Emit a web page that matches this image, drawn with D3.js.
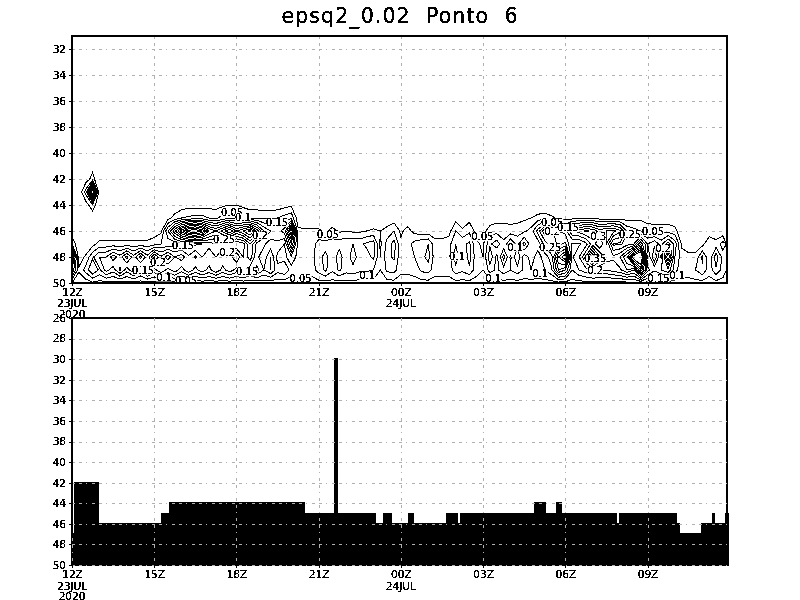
<!DOCTYPE html>
<html><head><meta charset="utf-8">
<script src="https://cdn.jsdelivr.net/npm/d3@7"></script>
<style>
html,body{margin:0;padding:0;background:#fff;}
svg{display:block;}
text{font-family:"DejaVu Sans",sans-serif;fill:#000;}
</style></head><body>
<svg id="c" width="800" height="600">
<defs><filter id="alias" filterUnits="userSpaceOnUse" x="0" y="0" width="800" height="600" color-interpolation-filters="sRGB">
<feComponentTransfer><feFuncA type="discrete" tableValues="0 1 1 1"/></feComponentTransfer>
</filter></defs>
</svg>
<script>
// ---------- data ----------
const chartTitle = "epsq2_0.02  Ponto  6";
const timeTickHours = [0,3,6,9,12,15,18,21];
const timeTickLabels = ["12Z","15Z","18Z","21Z","00Z","03Z","06Z","09Z"];
const dateLabels = [[0,"23JUL"],[0,"2020"],[12,"24JUL"]];
const topLevels = [32,34,36,38,40,42,44,46,48,50];
const bottomLevels = [26,28,30,32,34,36,38,40,42,44,46,48,50];
const stepHours = 0.25;
const gridLevels = [42,43,44,45,46,47,48,49,50];
const contourThresholds = [0.05,0.1,0.15,0.2,0.25,0.3,0.35,0.4,0.45,0.5,0.55];
// epsq2 in hundredths, one row per level, one value per 15 minutes
const row42 = [0,0,2,7,0,0,0,0,0,0,0,0, 0,0,0,0,0,0,0,0,0,0,0,0, 0,0,0,0,0,0,0,0,0,0,0,0, 0,0,0,0,0,0,0,0,0,0,0,0, 0,0,0,0,0,0,0,0,0,0,0,0, 0,0,0,0,0,0,0,0,0,0,0,0, 0,0,0,0,0,0,0,0,0,0,0,0, 0,0,0,0,0,0,0,0,0,0,0,0];
const row43 = [0,0,12,45,0,0,0,0,0,0,0,0, 0,0,0,0,0,0,0,0,0,0,0,0, 0,0,0,0,0,0,0,0,0,0,0,0, 0,0,0,0,0,0,0,0,0,0,0,0, 0,0,0,0,0,0,0,0,0,0,0,0, 0,0,0,0,0,0,0,0,0,0,0,0, 0,0,0,0,0,0,0,0,0,0,0,0, 0,0,0,0,0,0,0,0,0,0,0,0];
const row44 = [0,0,2,9,0,0,0,0,0,0,0,0, 0,0,0,1,2,3,2,2,3,3,4,5, 5,3,2,2,2,2,2,3,4,0,0,0, 0,0,0,0,0,0,0,0,0,0,0,0, 0,0,0,0,0,0,0,0,0,0,0,0, 0,0,0,0,0,0,0,0,0,0,0,0, 0,0,0,0,0,0,0,0,0,0,0,0, 0,0,0,0,0,0,0,0,0,0,0,0];
const row45 = [0,0,0,0,0,0,0,0,0,0,0,0, 0,1,3,7,10,11,12,12,10,9,12,14, 14,13,10,10,9,9,10,12,14,2,1,1, 0,0,0,0,0,0,0,0,0,0,1,2, 0,1,0,0,0,0,0,0,3,1,3,0, 0,1,3,3,3,3,4,5,7,8,6,4, 3,3,4,4,4,3,2,2,3,3,3,4, 2,2,2,2,1,0,0,0,0,0,0,0];
const row46 = [0,0,0,0,0,0,0,0,0,0,0,0, 2,4,20,34,48,58,60,55,40,35,42,50, 40,45,52,38,25,20,18,22,45,6,6,6, 6,4,7,4,5,4,4,5,6,5,7,10, 4,7,3,2,2,2,2,3,10,6,9,3, 3,8,8,8,7,8,9,12,22,34,26,20, 18,30,32,36,34,28,30,32,26,14,12,10, 9,8,8,8,7,0,0,0,0,1,1,1];
const row47 = [10,0,0,3,7,7,7,7,7,7,7,7, 8,10,11,12,13,13,14,15,18,19,17,16, 15,18,30,18,16,12,14,10,30,8,8,8, 12,12,12,13,14,15,14,16,18,4,12,17, 6,8,12,14,15,7,7,8,15,14,16,6, 4,14,18,11,20,13,22,12,12,22,28,24, 26,14,14,18,28,20,30,14,14,18,20,34, 20,24,18,28,18,4,3,3,3,10,7,12];
const row48 = [35,2,6,14,20,20,28,22,32,22,32,22, 36,26,33,25,28,21,26,20,24,20,24,22, 30,20,28,16,12,20,8,8,14,8,8,8, 13,17,11,18,11,18,12,13,16,5,13,16, 6,6,10,13,17,7,7,7,18,10,17,7, 5,19,8,22,9,20,7,12,8,12,18,40, 50,14,20,30,50,36,28,26,30,40,60,70, 14,30,14,40,15,7,6,6,16,6,18,8];
const row49 = [25,6,12,20,14,22,17,26,17,25,16,26, 18,24,18,23,17,24,18,23,18,24,18,23, 18,22,16,22,15,20,12,14,8,8,8,8, 12,16,11,16,12,13,11,11,10,5,11,12, 6,6,7,11,12,7,7,7,13,11,14,7, 5,12,9,13,10,13,9,10,9,10,14,30, 25,10,15,18,22,20,20,22,24,30,25,45, 22,16,20,24,12,7,8,10,14,7,14,8];
const row50 = [5,0,2,4,3,3,3,3,3,3,3,3, 3,3,3,3,2,2,2,2,2,2,2,2, 2,2,2,2,2,2,2,2,2,2,2,2, 3,3,3,3,3,3,3,3,3,3,3,3, 3,3,3,3,3,3,3,3,3,3,3,3, 3,3,3,3,3,3,3,3,3,3,3,3, 3,3,3,3,3,3,3,3,3,3,4,5, 3,3,3,3,3,3,3,3,3,3,3,3];
const contourLabelText = ["0.05","0.1","0.15","0.25","0.2","0.15","0.2","0.2","0.15","0.15","0.1","0.05","0.05","0.1","0.05","0.1","0.05","0.1","0.1","0.1","0.05","0.2","0.15","0.25","0.3","0.25","0.35","0.2","0.15","0.1","0.05","0.2"];
const contourLabelHour = [5.84,6.24,7.48,5.55,6.86,4.05,3.14,5.66,2.59,6.39,3.36,4.16,9.34,10.77,8.34,14.05,14.97,15.37,16.17,17.08,17.52,17.52,18.1,17.45,19.2,20.36,19.09,19.09,21.4,22.08,21.2,21.57];
const contourLabelLevel = [44.5,44.9,45.3,46.6,46.3,47.1,48.4,47.6,49,49.1,49.5,49.8,46.2,49.4,49.6,47.9,46.4,49.6,47.2,49.2,45.3,46,45.7,47.2,46.4,46.2,48.1,49,49.6,49.4,46,47.3];
// bottom panel: lowest level reached from each start hour on
const barStartHours = [0,0.07,0.99,3.25,3.54,8.5,9.56,9.71,11.09,11.35,11.68,12.26,12.48,13.65,14.09,14.16,16.86,17.3,17.66,17.88,19.89,19.96,22.08,22.19,22.96,23.36,23.47,23.83,23.98];
const barTopLevels = [47,42,46,45,44,45,30,45,46,45,46,45,46,45,46,45,44,45,44,45,46,45,46,47,46,45,46,45,45];

// ---------- scales ----------
const svg = d3.select("#c");
const x = d3.scaleLinear().domain([0,23.9]).range([72,727]);
const yTop = d3.scaleLinear().domain([31,50]).range([36,283]);
const yBot = d3.scaleLinear().domain([26,50]).range([318,565]);
const GRID = "#b0b0b0", DASH = "3,4,3,4,1,5";
const TICK_FONT = 10.5;

svg.append("text").attr("x",400).attr("y",23).attr("text-anchor","middle")
  .attr("font-size",20.5).attr("letter-spacing",1.1).attr("filter","url(#alias)").style("white-space","pre").text(chartTitle);

function grid(g, y, levels){
  g.append("g").selectAll("line").data(levels).join("line")
    .attr("x1",x(0)).attr("x2",x.range()[1]).attr("y1",d=>y(d)+.5).attr("y2",d=>y(d)+.5)
    .attr("stroke",GRID).attr("stroke-dasharray",DASH).attr("shape-rendering","crispEdges");
  g.append("g").selectAll("line").data(timeTickHours).join("line")
    .attr("x1",d=>Math.round(x(d))+.5).attr("x2",d=>Math.round(x(d))+.5)
    .attr("y1",y.range()[0]).attr("y2",y.range()[1])
    .attr("stroke",GRID).attr("stroke-dasharray",DASH).attr("shape-rendering","crispEdges");
}
function frame(g, y){
  g.append("rect").attr("x",x.range()[0]).attr("y",y.range()[0])
    .attr("width",x.range()[1]-x.range()[0]).attr("height",y.range()[1]-y.range()[0])
    .attr("fill","none").attr("stroke","#000").attr("stroke-width",2).attr("shape-rendering","crispEdges");
}
function axes(g, y, levels, second, third){
  const wrap = g.append("g").attr("filter","url(#alias)");
  const ya = wrap.append("g").attr("transform",`translate(${x.range()[0]},0)`)
    .call(d3.axisLeft(y).tickValues(levels).tickSize(3).tickPadding(3));
  ya.select(".domain").remove();
  ya.selectAll("line").attr("stroke","#000").attr("shape-rendering","crispEdges");
  ya.selectAll("text").attr("font-size",TICK_FONT).attr("font-family","DejaVu Sans");
  const xa = wrap.append("g").attr("transform",`translate(0,${y.range()[1]})`)
    .call(d3.axisBottom(x).tickValues(timeTickHours).tickFormat((d,i)=>timeTickLabels[i]).tickSize(3).tickPadding(3));
  xa.select(".domain").remove();
  xa.selectAll("line").attr("stroke","#000").attr("shape-rendering","crispEdges");
  xa.selectAll("text").attr("font-size",TICK_FONT).attr("font-family","DejaVu Sans");
  wrap.append("g").selectAll("text").data(dateLabels).join("text")
    .attr("x",d=>x(d[0])).attr("y",(d,i)=>i===1?third:second)
    .attr("text-anchor","middle").attr("font-size",TICK_FONT).text(d=>d[1]);
}

// ---------- top panel ----------
const top_ = svg.append("g");
svg.append("clipPath").attr("id","tc").append("rect")
  .attr("x",x.range()[0]).attr("y",yTop.range()[0])
  .attr("width",x.range()[1]-x.range()[0]).attr("height",yTop.range()[1]-yTop.range()[0]);
grid(top_, yTop, topLevels);
const rows = [row42,row43,row44,row45,row46,row47,row48,row49,row50];
const nx = row50.length, ny = rows.length;
const flat = rows.flat().map(v=>v/100);
const contours = d3.contours().size([nx,ny]).thresholds(contourThresholds)(flat);
const proj = d3.geoTransform({point(px,py){
  this.stream.point(x((px-.5)*stepHours), yTop(gridLevels[0]+(py-.5)));
}});
top_.append("g").attr("clip-path","url(#tc)").selectAll("path").data(contours).join("path")
  .attr("d",d3.geoPath(proj)).attr("fill","none").attr("stroke","#000").attr("stroke-width",1)
  .attr("shape-rendering","crispEdges");
const lab = top_.append("g").selectAll("g").data(contourLabelText).join("g");
lab.append("text").attr("x",(d,i)=>x(contourLabelHour[i])).attr("y",(d,i)=>yTop(contourLabelLevel[i])+4)
  .attr("text-anchor","middle").attr("font-size",10).attr("filter","url(#alias)").text(d=>d);
lab.each(function(){
  const t=d3.select(this).select("text"), b=t.node().getBBox();
  d3.select(this).insert("rect","text").attr("x",b.x).attr("y",b.y+2).attr("width",b.width).attr("height",b.height-3).attr("fill","#fff");
});
frame(top_, yTop);
axes(top_, yTop, topLevels, 307, 318);

// ---------- bottom panel ----------
const bot = svg.append("g");
frame(bot, yBot);
const area = d3.area().curve(d3.curveStepAfter)
  .x((d,i)=>x(barStartHours[i])).y0(yBot(50)+1).y1(d=>yBot(d)-1);
bot.append("path").datum(barTopLevels).attr("d",area).attr("fill","#000").attr("shape-rendering","crispEdges");
grid(bot, yBot, bottomLevels.slice(1));
bot.append("line").attr("x1",x.range()[0]).attr("x2",x.range()[0]).attr("y1",yBot.range()[0]).attr("y2",yBot(47))
  .attr("stroke","#000").attr("stroke-width",2).attr("shape-rendering","crispEdges");
axes(bot, yBot, bottomLevels, 590, 600);
</script>
</body></html>
